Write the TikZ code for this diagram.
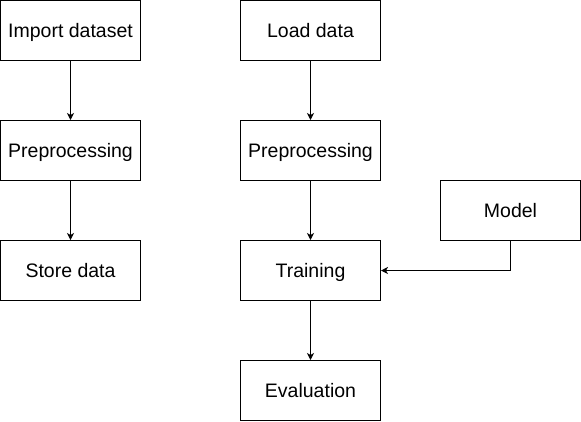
\documentclass[tikz,border=0pt]{standalone}
\usepackage{fontspec}
\setmainfont{Liberation Sans}
\usetikzlibrary{arrows.meta}
\begin{document}
\begin{tikzpicture}[x=1pt,y=-1pt,
  box/.style={draw=black,line width=1pt,minimum width=140pt,minimum height=60pt,inner sep=0pt,text height=17pt,text depth=3pt,font=\fontsize{19.5pt}{23pt}\selectfont},
  conn/.style={draw=black,line width=1pt,-{Stealth[length=7pt,width=7pt,inset=2pt]}}]
\useasboundingbox (0,0) rectangle (581,421);
\node[box] (imp) at (70.5,30.5) {Import dataset};
\node[box] (prl) at (70.5,150.5) {Preprocessing};
\node[box] (sto) at (70.5,270.5) {Store data};
\node[box] (load) at (310.5,30.5) {Load data};
\node[box] (prr) at (310.5,150.5) {Preprocessing};
\node[box] (tra) at (310.5,270.5) {Training};
\node[box] (eva) at (310.5,390.5) {Evaluation};
\node[box] (mod) at (510.5,210.5) {Model};
\draw[conn] (imp) -- (prl);
\draw[conn] (prl) -- (sto);
\draw[conn] (load) -- (prr);
\draw[conn] (prr) -- (tra);
\draw[conn] (tra) -- (eva);
\draw[conn] (mod.south) |- (tra.east);
\end{tikzpicture}
\end{document}
